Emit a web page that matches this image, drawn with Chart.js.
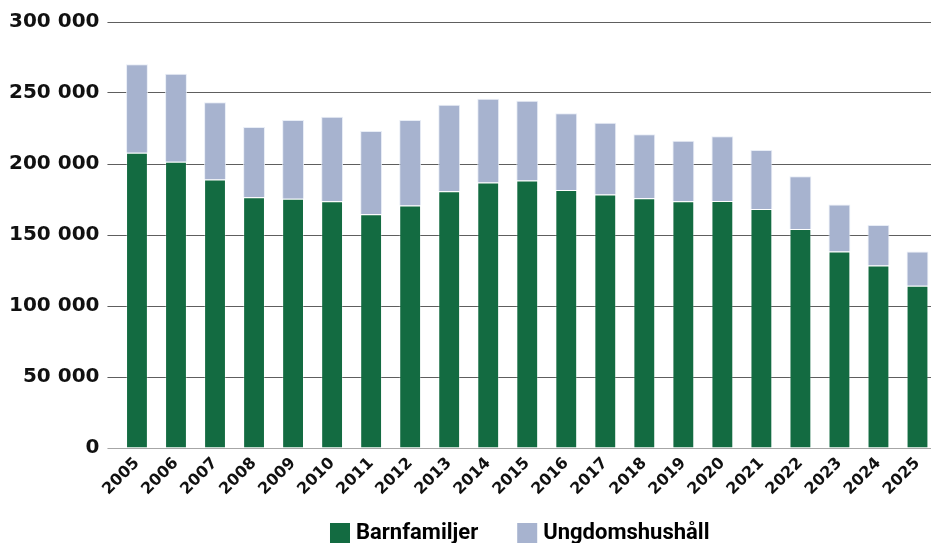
<!DOCTYPE html>
<html>
<head>
<meta charset="utf-8">
<script src="https://cdn.jsdelivr.net/npm/chart.js@4/dist/chart.umd.min.js"></script>
<style>
  html, body { margin: 0; padding: 0; background: #fff; overflow: hidden; }
  #wrap { width: 931px; height: 543px; overflow: hidden; position: relative; }
  canvas { display: block; }
</style>
</head>
<body>
<div id="wrap"><canvas id="c" width="940" height="543"></canvas></div>
<script>
const years = ['2005','2006','2007','2008','2009','2010','2011','2012','2013','2014','2015','2016','2017','2018','2019','2020','2021','2022','2023','2024','2025'];
const barnfamiljer = [208000, 201500, 189000, 176500, 175500, 173800, 164600, 170800, 180800, 187000, 188300, 181700, 178600, 175800, 173800, 173900, 168300, 154200, 138300, 128600, 114300];
const ungdomshushall = [62200, 62100, 54400, 49600, 55500, 59500, 58600, 60200, 61000, 59000, 56300, 54000, 50500, 45100, 42500, 45600, 41600, 37100, 33100, 28400, 24000];
const yTicks = [0, 50000, 100000, 150000, 200000, 250000, 300000];
const seriesNames = ['Barnfamiljer', 'Ungdomshushåll'];

function fmt(v) {
  return String(Math.round(v)).replace(/\B(?=(\d{3})+(?!\d))/g, ' ');
}

const legendShift = {
  id: 'legendShift',
  afterLayout(chart) {
    if (chart.legend) { chart.legend.left -= 5; chart.legend.right -= 5; }
  }
};

new Chart(document.getElementById('c'), {
  type: 'bar',
  data: {
    labels: years,
    datasets: [
      { label: seriesNames[0], data: barnfamiljer, backgroundColor: '#136b41', borderColor: 'rgba(255,255,255,0.25)', borderWidth: 1, borderSkipped: 'bottom' },
      { label: seriesNames[1], data: ungdomshushall, backgroundColor: '#a7b3cf', borderColor: 'rgba(230,235,245,0.9)', borderWidth: 1, borderSkipped: 'bottom' }
    ]
  },
  plugins: [legendShift],
  options: {
    responsive: false,
    devicePixelRatio: 1,
    animation: false,
    categoryPercentage: 1,
    barPercentage: 0.56,
    layout: { padding: { top: 22, left: 1, right: 3, bottom: -11 } },
    plugins: {
      tooltip: { enabled: false },
      legend: {
        display: true,
        position: 'bottom',
        fullSize: false,
        labels: {
          usePointStyle: true,
          pointStyle: 'rect',
          boxWidth: 10,
          boxHeight: 20,
          padding: 44,
          color: '#111',
          font: { family: 'Roboto', weight: 'bold', size: 22 },
          generateLabels: (chart) => chart.data.datasets.map((ds, i) => ({
            text: ds.label,
            fillStyle: ds.backgroundColor,
            strokeStyle: ds.backgroundColor,
            lineWidth: 0,
            pointStyle: 'rect',
            hidden: false,
            datasetIndex: i
          }))
        }
      }
    },
    scales: {
      x: {
        stacked: true,
        grid: { display: false, drawTicks: false },
        border: { display: true, color: '#a6a6a6', width: 1 },
        ticks: {
          minRotation: 45,
          maxRotation: 45,
          padding: 6,
          color: '#111',
          font: { family: 'DejaVu Sans', weight: 'bold', size: 16 }
        },
        afterFit: (s) => { s.height = 30; },
        afterUpdate: (s) => { s._computeLabelArea = () => undefined; }
      },
      y: {
        stacked: true,
        min: 0,
        max: 300000,
        afterBuildTicks: (s) => { s.ticks = yTicks.map(v => ({ value: v })); },
        grid: {
          color: (ctx) => (ctx.tick && ctx.tick.value === 0) ? '#a6a6a6' : '#5e5e5e',
          lineWidth: 1,
          drawTicks: true,
          tickLength: 10
        },
        border: { display: false },
        ticks: {
          padding: 8,
          color: '#111',
          font: { family: 'DejaVu Sans', weight: 'bold', size: 20 },
          callback: (v) => fmt(v)
        }
      }
    }
  }
});
</script>
</body>
</html>
